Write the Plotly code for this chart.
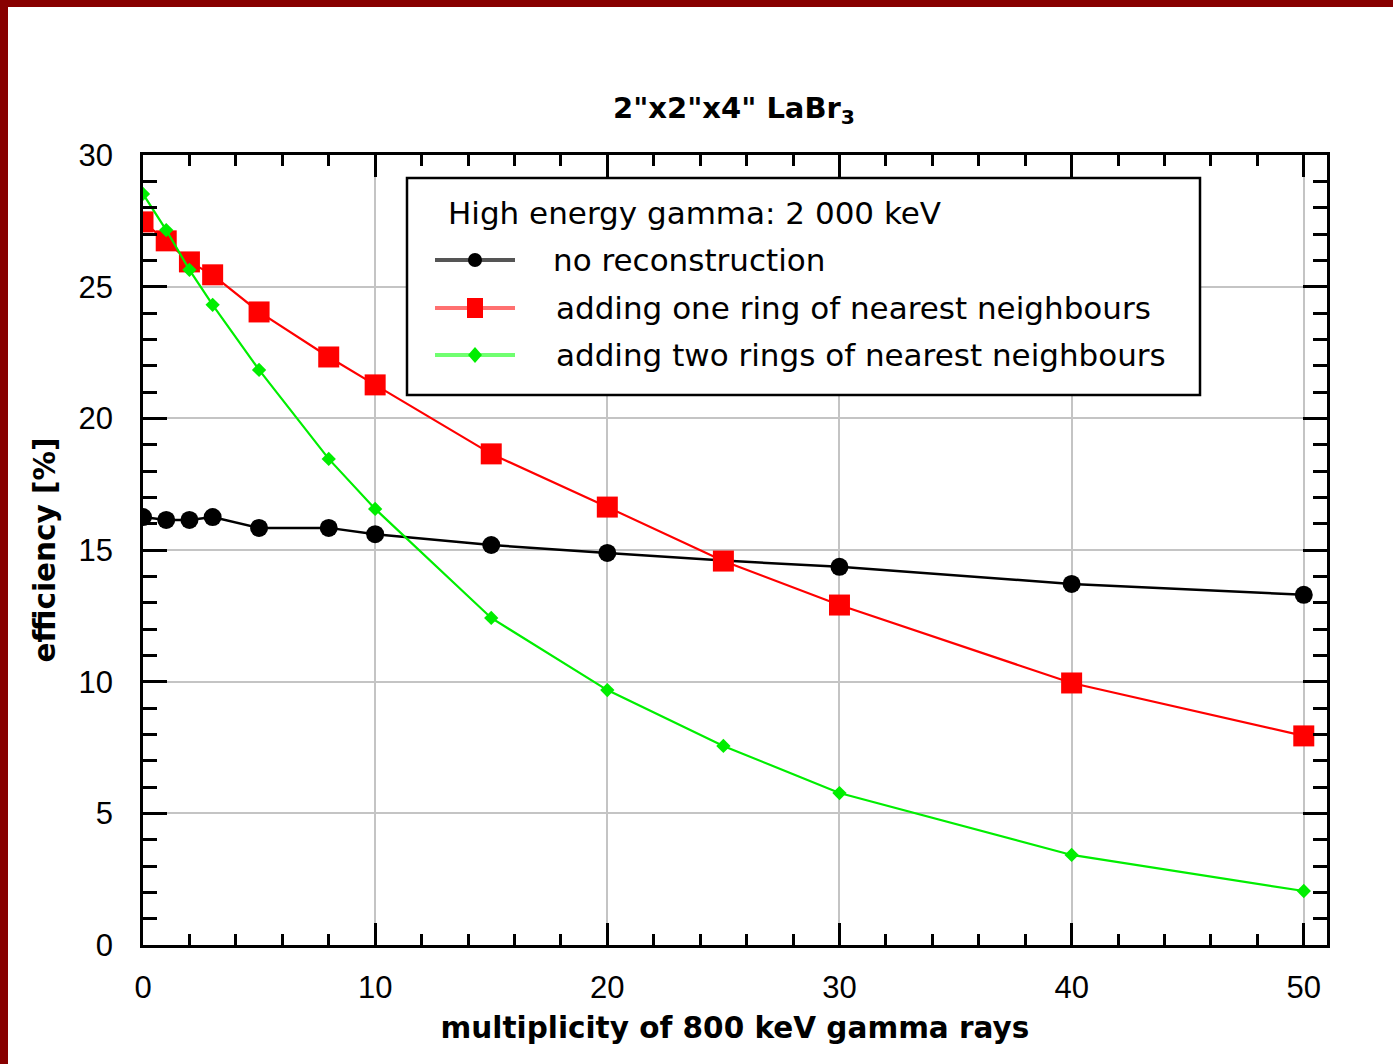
import plotly.graph_objects as go

# multiplicity of 800 keV gamma rays
multiplicity = [0, 1, 2, 3, 5, 8, 10, 15, 20, 25, 30, 40, 50]

# efficiency [%] for each reconstruction mode
eff_no_reco = [16.25, 16.14, 16.14, 16.25, 15.84, 15.84, 15.6, 15.19, 14.89, 14.6, 14.36, 13.71, 13.3]
eff_one_ring = [27.46, 26.74, 25.94, 25.45, 24.04, 22.33, 21.27, 18.65, 16.63, 14.58, 12.91, 9.95, 7.94]
eff_two_rings = [28.52, 27.15, 25.64, 24.31, 21.84, 18.46, 16.56, 12.42, 9.68, 7.56, 5.77, 3.42, 2.05]

series_names = [
    "no reconstruction",
    "adding one ring of nearest neighbours",
    "adding two rings of nearest neighbours",
]
legend_heading = "High energy gamma: 2 000 keV"

x_ticks = [0, 10, 20, 30, 40, 50]
y_ticks = [0, 5, 10, 15, 20, 25, 30]

W, H = 1393, 1064
ML, MR, MT, MB = 143, 66, 155, 119
PW, PH = W - ML - MR, H - MT - MB
FONT = "Liberation Sans, Arial, sans-serif"
TEXT_FONT = "DejaVu Sans, Verdana, sans-serif"


def px(xp):
    return (xp - ML) / PW


def py(yp):
    return (H - MB - yp) / PH


fig = go.Figure()

fig.add_trace(go.Scatter(
    x=multiplicity, y=eff_no_reco, mode="lines+markers", name=series_names[0],
    line=dict(color="black", width=2.5),
    marker=dict(symbol="circle", size=18, color="black"),
    showlegend=False,
))
fig.add_trace(go.Scatter(
    x=multiplicity, y=eff_one_ring, mode="lines+markers", name=series_names[1],
    line=dict(color="#ff0000", width=2.2),
    marker=dict(symbol="square", size=21, color="#ff0000"),
    showlegend=False,
))
fig.add_trace(go.Scatter(
    x=multiplicity, y=eff_two_rings, mode="lines+markers", name=series_names[2],
    line=dict(color="#00ee00", width=2.2),
    marker=dict(symbol="diamond", size=11, color="#00ee00"),
    showlegend=False,
))

shapes = []
annotations = []

# page frame: dark red strip on top and left
shapes.append(dict(type="rect", xref="paper", yref="paper",
                   x0=px(8), x1=px(W + 5), y0=py(H + 5), y1=py(7),
                   fillcolor="white", line=dict(width=0), layer="below"))

# legend box
shapes.append(dict(type="rect", xref="paper", yref="paper",
                   x0=px(407), x1=px(1200), y0=py(395), y1=py(178),
                   fillcolor="white", line=dict(color="black", width=2.5), layer="above"))
annotations.append(dict(xref="paper", yref="paper", x=px(446), y=py(213),
                        text=legend_heading, showarrow=False, xanchor="left", yanchor="middle",
                        font=dict(family=TEXT_FONT, size=31, color="black")))

legend_rows = [
    (260, 551, "#555555", "black", "circle"),
    (308, 554, "#ff7070", "#ff0000", "square"),
    (355, 554, "#70ff70", "#00ee00", "diamond"),
]
for (yrow, xtext, lcol, mcol, sym), name in zip(legend_rows, series_names):
    shapes.append(dict(type="line", xref="paper", yref="paper",
                       x0=px(435), x1=px(515), y0=py(yrow), y1=py(yrow),
                       line=dict(color=lcol, width=4), layer="above"))
    if sym == "circle":
        shapes.append(dict(type="circle", xref="paper", yref="paper",
                           x0=px(468), x1=px(482), y0=py(yrow + 7), y1=py(yrow - 7),
                           fillcolor=mcol, line=dict(width=0), layer="above"))
    elif sym == "square":
        shapes.append(dict(type="rect", xref="paper", yref="paper",
                           x0=px(467), x1=px(483), y0=py(yrow + 10), y1=py(yrow - 10),
                           fillcolor=mcol, line=dict(width=0), layer="above"))
    else:
        path = "M {a},{b} L {c},{d} L {a},{e} L {f},{d} Z".format(
            a=px(475), b=py(yrow - 8), c=px(482), d=py(yrow), e=py(yrow + 8), f=px(468))
        shapes.append(dict(type="path", xref="paper", yref="paper", path=path,
                           fillcolor=mcol, line=dict(width=0), layer="above"))
    annotations.append(dict(xref="paper", yref="paper", x=px(xtext), y=py(yrow),
                            text=name, showarrow=False, xanchor="left", yanchor="middle",
                            font=dict(family=TEXT_FONT, size=31, color="black")))

axis_common = dict(
    showline=True, linecolor="black", linewidth=2.5, mirror="ticks",
    ticks="inside", tickcolor="black", tickwidth=2.5,
    showgrid=True, gridcolor="#c4c4c4", gridwidth=2,
    zeroline=False,
    tickfont=dict(family=FONT, size=31, color="black"),
)

fig.update_layout(
    width=W, height=H,
    margin=dict(l=ML, r=MR, t=MT, b=MB, autoexpand=False),
    paper_bgcolor="#880000",
    plot_bgcolor="white",
    title=dict(text="<b>2\"x2\"x4\" LaBr<sub>3</sub></b>", x=px(734), xref="paper",
               y=1 - 108 / H, yanchor="middle", xanchor="center",
               font=dict(family=TEXT_FONT, size=29, color="black")),
    xaxis=dict(
        range=[0, 51], tickvals=x_ticks, ticklen=22,
        minor=dict(ticks="inside", dtick=2, ticklen=11, tickcolor="black", tickwidth=2.5, showgrid=False),
        title=dict(text="<b>multiplicity of 800 keV gamma rays</b>", standoff=14,
                   font=dict(family=TEXT_FONT, size=29.5, color="black")),
        ticklabelstandoff=13,
        **axis_common,
    ),
    yaxis=dict(
        range=[0, 30], tickvals=y_ticks, ticklen=24,
        minor=dict(ticks="inside", dtick=1, ticklen=14, tickcolor="black", tickwidth=2.5, showgrid=False),
        title=dict(text="<b>efficiency [%]</b>", standoff=15,
                   font=dict(family=TEXT_FONT, size=29.5, color="black")),
        ticklabelstandoff=21,
        **axis_common,
    ),
    shapes=shapes,
    annotations=annotations,
    showlegend=False,
)

fig.write_html("out.html")
